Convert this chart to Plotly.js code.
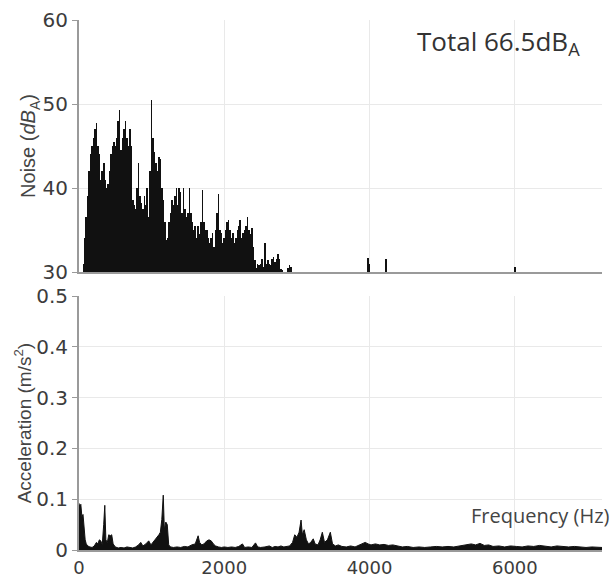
<!DOCTYPE html>
<html>
<head>
<meta charset="utf-8">
<script src="https://cdn.plot.ly/plotly-3.0.1.min.js"></script>
<style>html,body{margin:0;padding:0;background:#fff;}#chart{width:616px;height:579px;}</style>
</head>
<body>
<div id="chart"></div>
<script>
// Noise spectrum (Hz, dB_A)
const noiseFreq = [40,60,80,100,120,140,160,180,200,220,240,260,280,300,320,340,360,380,400,420,440,460,480,500,520,540,560,580,600,620,640,660,680,700,720,740,760,780,800,820,840,860,880,900,920,940,960,980,1000,1020,1040,1060,1080,1100,1120,1140,1160,1180,1200,1220,1240,1260,1280,1300,1320,1340,1360,1380,1400,1420,1440,1460,1480,1500,1520,1540,1560,1580,1600,1620,1640,1660,1680,1700,1720,1740,1760,1780,1800,1820,1840,1860,1880,1900,1920,1940,1960,1980,2000,2020,2040,2060,2080,2100,2120,2140,2160,2180,2200,2220,2240,2260,2280,2300,2320,2340,2360,2380,2400,2420,2440,2460,2480,2500,2520,2540,2560,2580,2600,2620,2640,2660,2680,2700,2720,2740,2760,2780,2800,2820,2840,2860,2880,2900,2920,2940,3980,4000,4230,6000];
const noiseDb = [30,31,34,36.5,39,42,44,45,46,47,47.7,45,44,41,42,43,41,40,40.5,42,44,45,45.5,45,46,48,49.3,44.5,46,47,48,46,45,47,45,38.6,38,37.5,40,43,39,38.2,37.5,39,38,40,36.5,42,50.5,46,44.3,43,42,43.7,43.5,40,38.6,36,33.8,34,36,37,38.6,38,39,40,38,40,39.5,37,40,37.5,36.5,37,40,37,36,35,35.5,34,35.5,34.5,36,39.8,36,35,35,34,33.5,34,34.6,33,35,37,39.3,35,34.6,33.5,34,35,36,36.2,35,34,34.6,33.5,34,35,35.5,36.2,34,34.6,35,35.5,36.5,35,34.5,35.2,33,31.4,30.5,31,30.8,31,31.5,30.6,33.4,31,31.4,31,30.8,31.5,31.8,31.2,31.6,32.2,31.5,30.3,30.2,30,30,30,30.5,30.8,30.6,30,31.7,31,31.6,30.6];

// Acceleration spectrum (Hz, m/s^2)
const accFreq = [0,10,25,40,55,70,85,100,120,150,180,210,240,260,280,300,320,340,355,370,390,410,430,450,470,500,540,580,620,660,700,740,780,820,850,880,920,960,990,1020,1050,1080,1100,1120,1140,1160,1175,1195,1215,1235,1260,1300,1350,1400,1450,1500,1550,1600,1620,1640,1660,1690,1720,1760,1790,1820,1850,1880,1920,1960,2000,2050,2100,2150,2200,2250,2280,2330,2380,2430,2460,2500,2560,2620,2660,2700,2740,2780,2820,2860,2900,2940,2970,3000,3030,3057,3075,3100,3130,3160,3190,3225,3250,3290,3320,3350,3380,3420,3460,3490,3530,3570,3620,3680,3740,3800,3860,3900,3940,3980,4020,4080,4140,4200,4260,4320,4380,4450,4520,4600,4680,4760,4840,4920,5000,5080,5160,5240,5320,5400,5460,5520,5580,5640,5700,5780,5860,5940,6020,6100,6180,6260,6340,6420,6500,6580,6660,6740,6820,6900,6980,7060,7140,7200];
const accVal = [0.092,0.085,0.09,0.065,0.07,0.04,0.02,0.012,0.008,0.006,0.005,0.008,0.015,0.012,0.02,0.018,0.01,0.05,0.088,0.02,0.015,0.03,0.028,0.03,0.012,0.006,0.004,0.005,0.004,0.006,0.005,0.004,0.006,0.01,0.015,0.008,0.012,0.018,0.01,0.015,0.02,0.025,0.03,0.035,0.06,0.108,0.04,0.055,0.05,0.01,0.006,0.005,0.006,0.005,0.007,0.006,0.01,0.012,0.02,0.028,0.015,0.01,0.012,0.018,0.02,0.018,0.012,0.008,0.006,0.005,0.006,0.005,0.006,0.005,0.007,0.012,0.005,0.006,0.005,0.014,0.006,0.005,0.006,0.008,0.005,0.007,0.006,0.008,0.006,0.007,0.008,0.015,0.03,0.025,0.035,0.059,0.03,0.04,0.02,0.012,0.015,0.022,0.012,0.01,0.02,0.035,0.015,0.02,0.035,0.012,0.008,0.01,0.007,0.006,0.008,0.006,0.01,0.012,0.015,0.012,0.01,0.012,0.01,0.011,0.009,0.01,0.008,0.006,0.007,0.005,0.006,0.005,0.006,0.007,0.006,0.007,0.006,0.008,0.009,0.012,0.01,0.013,0.009,0.01,0.007,0.008,0.006,0.008,0.007,0.006,0.008,0.007,0.009,0.007,0.006,0.008,0.007,0.006,0.007,0.006,0.005,0.006,0.005,0.005];

const xTicks = [0,2000,4000,6000];
const noiseTicks = [30,40,50,60];
const accTicks = [0,0.1,0.2,0.3,0.4,0.5];
const accTickText = ['0','0.1','0.2','0.3','0.4','0.5'];

const tickFont = {family:'DejaVu Sans, sans-serif', size:20, color:'#3c3c3c'};
const xTickFont = {family:'DejaVu Sans, sans-serif', size:18, color:'#3c3c3c'};
const gridC = '#e9e9e9';
const spineC = '#9a9a9a';

const traces = [
  {x:noiseFreq, y:noiseDb, type:'bar', width:22, marker:{color:'#111', line:{width:0}},
   xaxis:'x', yaxis:'y', hoverinfo:'skip'},
  {x:accFreq, y:accVal, type:'scatter', mode:'lines', fill:'tozeroy',
   line:{color:'#111', width:1}, fillcolor:'#111', xaxis:'x2', yaxis:'y2', hoverinfo:'skip'}
];

const xCommon = {range:[0,7200], tickvals:xTicks, showgrid:true, gridcolor:gridC, zeroline:false,
  showline:true, linecolor:spineC, linewidth:2, ticks:'', tickfont:xTickFont};

const layout = {
  width:616, height:579,
  margin:{l:79, r:14, t:20, b:29},
  paper_bgcolor:'#fff', plot_bgcolor:'#fff',
  showlegend:false, bargap:0,
  xaxis:Object.assign({}, xCommon, {domain:[0,1], anchor:'y', showticklabels:false}),
  yaxis:{domain:[0.5245,1], range:[30,60], tickvals:noiseTicks, showgrid:true, gridcolor:gridC,
    zeroline:false, showline:true, linecolor:spineC, linewidth:2, ticks:'outside', ticklen:5,
    tickcolor:spineC, tickfont:tickFont, anchor:'x',
    title:{text:'Noise (<i>dB</i><sub>A</sub>)', font:{family:'Liberation Sans, Arial, sans-serif', size:20, color:'#444'}, standoff:0}},
  xaxis2:Object.assign({}, xCommon, {domain:[0,1], anchor:'y2', showticklabels:true}),
  yaxis2:{domain:[0,0.479], range:[0,0.5], tickvals:accTicks, ticktext:accTickText, showgrid:true,
    gridcolor:gridC, zeroline:false, showline:true, linecolor:spineC, linewidth:2, ticks:'outside',
    ticklen:5, tickcolor:spineC, tickfont:tickFont, anchor:'x2',
    title:{text:'Acceleration (m/s<sup>2</sup>)', font:{family:'Liberation Sans, Arial, sans-serif', size:19, color:'#444'}, standoff:0}},
  annotations:[
    {text:'Total 66.5dB<sub>A</sub>', xref:'paper', yref:'paper', x:0.962, y:0.958, xanchor:'right', yanchor:'middle',
     showarrow:false, font:{family:'Open Sans, sans-serif', size:26, color:'#333'}},
    {text:'Frequency (Hz)', xref:'paper', yref:'paper', x:1.019, y:0.066, xanchor:'right', yanchor:'middle',
     showarrow:false, font:{family:'Open Sans, sans-serif', size:20, color:'#444'}}
  ]
};

Plotly.newPlot('chart', traces, layout, {displayModeBar:false, staticPlot:true});
</script>
</body>
</html>
